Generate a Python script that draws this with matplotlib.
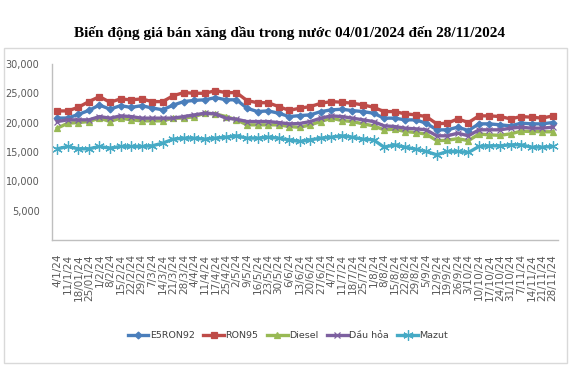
import matplotlib
matplotlib.use('Agg')
import matplotlib.pyplot as plt
from matplotlib.patches import Rectangle
from matplotlib.ticker import FixedLocator, FuncFormatter

dates = ["4/1/24", "11/1/24", "18/01/24", "25/01/24", "1/2/24", "8/2/24", "15/2/24", "22/2/24",
         "29/2/24", "7/3/24", "14/3/24", "21/3/24", "28/3/24", "4/4/24", "11/4/24", "17/4/24",
         "25/4/24", "2/5/24", "9/5/24", "16/5/24", "23/5/24", "30/5/24", "6/6/24", "13/6/24",
         "20/6/24", "27/6/24", "4/7/24", "11/7/24", "18/7/24", "25/7/24", "1/8/24", "8/8/24",
         "15/8/24", "22/8/24", "29/8/24", "5/9/24", "12/9/24", "19/9/24", "26/9/24", "3/10/24",
         "10/10/24", "17/10/24", "24/10/24", "31/10/24", "7/11/24", "14/11/24", "21/11/24", "28/11/24"]

e5ron92 = [20770, 20800, 21400, 22100, 23000, 22300, 22900, 22600, 22900, 22500, 22200, 23000,
           23600, 23800, 23900, 24270, 23900, 23900, 22460, 21890, 22010, 21610, 21040, 21200,
           21330, 21890, 22180, 22290, 22060, 21890, 21610, 20770, 20770, 20480, 20480, 19910,
           18780, 18780, 19230, 18660, 19800, 19800, 19630, 19460, 19910, 19800, 19800, 20020]

ron95 = [22000, 22000, 22630, 23590, 24440, 23480, 24050, 23880, 24050, 23590, 23590, 24600,
         25120, 25010, 25010, 25450, 25120, 25120, 23760, 23400, 23400, 22740, 22100, 22460,
         22740, 23310, 23590, 23480, 23310, 23030, 22630, 21890, 21890, 21500, 21330, 21040,
         19800, 19910, 20650, 20020, 21160, 21160, 21040, 20650, 21040, 20930, 20770, 21160]

diesel = [19060, 19910, 20020, 20190, 20770, 20190, 20770, 20480, 20310, 20310, 20310, 20770,
          20770, 21040, 21610, 21500, 21040, 20480, 19630, 19630, 19630, 19630, 19340, 19200,
          19630, 20190, 20770, 20360, 20190, 19800, 19460, 18780, 18890, 18490, 18320, 18050,
          16930, 17000, 17280, 16930, 18060, 17920, 17840, 18100, 18550, 18500, 18450, 18450]

dau_hoa = [20190, 20480, 20480, 20480, 21040, 20770, 21160, 21040, 20770, 20770, 20770, 20770,
           21040, 21330, 21610, 21500, 20770, 20590, 20190, 20190, 20190, 20020, 19800, 19850,
           20190, 20770, 21160, 21040, 20770, 20480, 20190, 19460, 19340, 19060, 18950, 18780,
           17760, 17760, 18210, 17760, 18780, 18780, 18780, 19060, 19230, 19060, 19060, 19230]

mazut = [15540, 15940, 15540, 15540, 15940, 15660, 15940, 15940, 15940, 16050, 16510, 17190,
         17360, 17360, 17190, 17360, 17530, 17760, 17360, 17360, 17530, 17360, 17070, 16790,
         17070, 17360, 17530, 17760, 17530, 17190, 17070, 15830, 16220, 15830, 15490, 15090,
         14520, 15090, 15090, 14920, 15940, 16050, 16050, 16220, 16220, 15830, 15830, 15940]

series_names = ["E5RON92", "RON95", "Diesel", "Dầu hỏa", "Mazut"]
yticks = [5000, 10000, 15000, 20000, 25000, 30000]

W, H = 574, 367
fig = plt.figure(figsize=(W / 100, H / 100), dpi=100)
fig.patch.set_facecolor('white')

# chart frame
fig.add_artist(Rectangle((4 / W, 1 - 363 / H), (567 - 4) / W, (363 - 48) / H,
                         transform=fig.transFigure, fill=False, edgecolor='#d9d9d9', lw=1.0))

ax = fig.add_axes([52 / W, 1 - 240 / H, 506 / W, 176 / H])
x = list(range(len(dates)))

small = ['Liberation Sans Narrow', 'DejaVu Sans']
styles = [
    (e5ron92, '#4a7ebb', 'D', 3.5),
    (ron95, '#be4b48', 's', 5.0),
    (diesel, '#98b954', '^', 5.0),
    (dau_hoa, '#7d60a0', 'x', 5.0),
    (mazut, '#46aac5', (6, 2, 0), 7.5),
]
for (vals, col, mk, ms), name in zip(styles, series_names):
    ax.plot(x, vals, color=col, lw=2.4, marker=mk, markersize=ms, label=name,
            markerfacecolor=col, markeredgecolor=col, markeredgewidth=0.9)

ax.set_xlim(-0.5, len(dates) - 0.5)
ax.set_ylim(0, 30000)
ax.yaxis.set_major_locator(FixedLocator(yticks))
ax.yaxis.set_major_formatter(FuncFormatter(lambda v, p: f"{int(v):,}"))
ax.set_xticks(x)
ax.set_xticklabels(dates, rotation=90, fontsize=7.5, family=small, color='#595959')
for lab in ax.get_yticklabels():
    lab.set_family(small)
ax.tick_params(axis='y', length=0, labelsize=7, labelcolor='#595959', pad=9)
ax.tick_params(axis='x', length=0, pad=10)
for s in ['top', 'right']:
    ax.spines[s].set_visible(False)
for s in ['left', 'bottom']:
    ax.spines[s].set_color('#bfbfbf')
    ax.spines[s].set_linewidth(1.0)

fig.text(290 / W, 1 - 33 / H, "Biến động giá bán xăng dầu trong nước 04/01/2024 đến 28/11/2024",
         ha='center', va='center', fontsize=11, fontweight='bold',
         family=['Liberation Serif', 'DejaVu Serif'])

leg = fig.legend(loc='center', bbox_to_anchor=(288 / W, 1 - 336 / H), ncol=5, frameon=False,
                 prop={'family': small, 'size': 6.8}, handlelength=2.2, columnspacing=0.9,
                 handletextpad=0.15)
for t in leg.get_texts():
    t.set_color('#404040')

fig.savefig('out.png', dpi=100)
